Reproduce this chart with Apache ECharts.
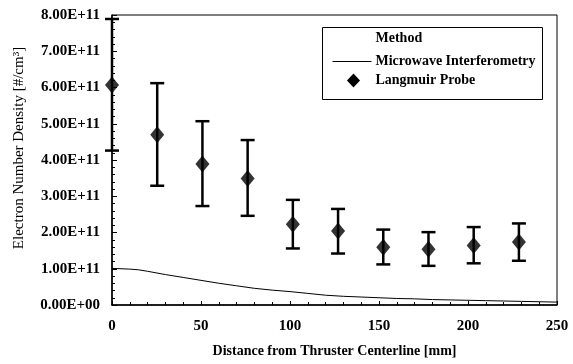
<!DOCTYPE html>
<html>
<head>
<meta charset="utf-8">
<script src="https://cdn.jsdelivr.net/npm/echarts@6/dist/echarts.min.js"></script>
<style>
  html, body { margin: 0; padding: 0; background: #fff; }
  #chart { width: 573px; height: 364px; }
</style>
</head>
<body>
<div id="chart"></div>
<script>
// Langmuir probe measurements (distance in mm, density in 1e11 #/cm^3)
const probeX    = [0, 25.4, 50.8, 76.2, 101.6, 127.0, 152.4, 177.8, 203.2, 228.6];
const probeMean = [6.07, 4.70, 3.89, 3.49, 2.23, 2.04, 1.59, 1.54, 1.64, 1.74];
const probeLow  = [4.26, 3.29, 2.73, 2.46, 1.56, 1.42, 1.12, 1.08, 1.15, 1.22];
const probeHigh = [7.89, 6.12, 5.07, 4.55, 2.90, 2.65, 2.08, 2.01, 2.15, 2.25];

// Microwave interferometry profile
const mwX = [0, 10, 15, 20, 30, 40, 50, 60, 70, 80, 90, 100, 110, 120, 130, 140, 150, 160, 170, 180, 190, 200, 210, 220, 230, 240, 250];
const mwY = [1.01, 0.99, 0.97, 0.93, 0.84, 0.76, 0.68, 0.60, 0.53, 0.46, 0.41, 0.37, 0.32, 0.27, 0.24, 0.22, 0.20, 0.18, 0.17, 0.15, 0.14, 0.13, 0.12, 0.11, 0.10, 0.09, 0.08];

// Legend entries
const legendTitle = 'Method';
const legendNames = ['Microwave Interferometry', 'Langmuir Probe'];

const SCALE = 1e11;
const FONT = '"Liberation Serif", "DejaVu Serif", serif';

function sci(v) {
  if (v === 0) return '0.00E+00';
  const e = Math.floor(Math.log10(Math.abs(v)) + 1e-9);
  const m = v / Math.pow(10, e);
  return m.toFixed(2) + 'E+' + (e < 10 ? '0' + e : e);
}

const chart = echarts.init(document.getElementById('chart'));
chart.setOption({
  animation: false,
  backgroundColor: '#fff',
  grid: { left: 112, right: 16, top: 15, bottom: 59, show: true, borderColor: '#000', borderWidth: 1 },
  xAxis: {
    type: 'value', min: 0, max: 250, interval: 50,
    name: 'Distance from Thruster Centerline [mm]',
    nameLocation: 'middle', nameGap: 39,
    nameTextStyle: { fontFamily: FONT, fontWeight: 'bold', fontSize: 14, color: '#000' },
    axisLine: { lineStyle: { color: '#000', width: 1.5 } },
    axisTick: { inside: true, length: 4, lineStyle: { color: '#000' } },
    minorTick: { show: true, splitNumber: 5, length: 3, lineStyle: { color: '#000' } },
    axisLabel: { margin: 14, fontFamily: FONT, fontWeight: 'bold', fontSize: 15, color: '#000' },
    splitLine: { show: false }
  },
  yAxis: {
    type: 'value', min: 0, max: 8, interval: 1,
    name: 'Electron Number Density [#/cm³]',
    nameLocation: 'middle', nameGap: 85,
    nameTextStyle: { fontFamily: FONT, fontSize: 15, color: '#000', padding: [0, 0, 0, 24] },
    axisLine: { lineStyle: { color: '#000', width: 1.5 } },
    axisTick: { inside: true, length: 5, lineStyle: { color: '#000' } },
    minorTick: { show: true, splitNumber: 5, length: 3, lineStyle: { color: '#000' } },
    axisLabel: {
      margin: 12, fontFamily: FONT, fontWeight: 'bold', fontSize: 15, color: '#000',
      formatter: v => sci(v * SCALE)
    },
    splitLine: { show: false }
  },
  graphic: [{
    type: 'group', left: 322, top: 27, z: 100,
    children: [
      { type: 'rect', shape: { x: 0, y: 0, width: 220, height: 72 },
        style: { fill: '#fff', stroke: '#000', lineWidth: 1 } },
      { type: 'text', x: 53, y: 11,
        style: { text: legendTitle, font: 'bold 14px ' + FONT, fill: '#000', verticalAlign: 'middle' } },
      { type: 'line', shape: { x1: 10, y1: 34, x2: 49, y2: 34 },
        style: { stroke: '#000', lineWidth: 1 } },
      { type: 'text', x: 53, y: 34,
        style: { text: legendNames[0], font: 'bold 14px ' + FONT, fill: '#000', verticalAlign: 'middle' } },
      { type: 'polygon', shape: { points: [[31, 46], [37.5, 53], [31, 60], [24.5, 53]] },
        style: { fill: '#000' } },
      { type: 'text', x: 53, y: 53,
        style: { text: legendNames[1], font: 'bold 14px ' + FONT, fill: '#000', verticalAlign: 'middle' } }
    ]
  }],
  series: [
    {
      name: legendNames[0], type: 'line',
      data: mwX.map((x, i) => [x, mwY[i]]),
      symbol: 'none', smooth: false,
      lineStyle: { color: '#000', width: 1 },
      itemStyle: { color: '#000' }
    },
    {
      name: 'errorbars', type: 'custom',
      data: probeX.map((x, i) => [x, probeLow[i], probeHigh[i]]),
      renderItem: function (params, api) {
        const lo = api.coord([api.value(0), api.value(1)]);
        const hi = api.coord([api.value(0), api.value(2)]);
        const hw = 7;
        const style = { stroke: '#000', lineWidth: 2.5 };
        return {
          type: 'group',
          children: [
            { type: 'line', shape: { x1: lo[0], y1: lo[1], x2: hi[0], y2: hi[1] }, style },
            { type: 'line', shape: { x1: lo[0] - hw, y1: lo[1], x2: lo[0] + hw, y2: lo[1] }, style },
            { type: 'line', shape: { x1: hi[0] - hw, y1: hi[1], x2: hi[0] + hw, y2: hi[1] }, style }
          ]
        };
      },
      z: 3
    },
    {
      name: legendNames[1], type: 'scatter',
      data: probeX.map((x, i) => [x, probeMean[i]]),
      symbol: 'diamond', symbolSize: [14, 17],
      itemStyle: { color: '#000' },
      z: 4
    }
  ]
});
</script>
</body>
</html>
